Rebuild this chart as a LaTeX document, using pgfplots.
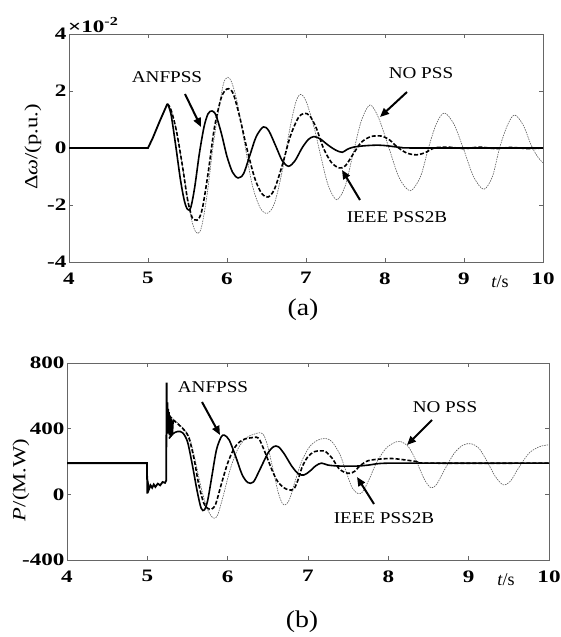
\documentclass[border=0pt]{standalone}
\usepackage{fontspec}
\setmainfont{Liberation Serif}
\newfontfamily\tickfont[FakeStretch=1.32]{Liberation Serif}
\newfontfamily\annfont[FakeStretch=1.16]{Liberation Serif}
\newfontfamily\labfont[FakeStretch=1.22]{Liberation Serif}
\usepackage{pgfplots}
\pgfplotsset{compat=1.18}
\usetikzlibrary{arrows.meta}
\pgfplotsset{mystyle/.style={
  scale only axis, anchor=south west,
  xmin=4, xmax=10, xtick={4,5,6,7,8,9,10},
  xticklabels={4,5,6,7,8,9,10},
  tick align=inside, major tick length=4pt,
  axis line style={black!60, line width=0.8pt},
  tick style={black!60, line width=0.8pt},
  tick label style={font=\fontsize{17.5}{20}\tickfont\bfseries},
  xticklabel style={yshift=-7pt},
  yticklabel style={xshift=1pt},
  clip=true,
}}
\tikzset{
  anf/.style={black, line width=1.6pt, smooth},
  ieee/.style={black, line width=1.6pt, dash pattern=on 4pt off 2pt, smooth},
  nopss/.style={black!65, line width=0.6pt, dash pattern=on 1.5pt off 1pt, smooth},
  arr/.style={-{Triangle[length=9pt,width=7.5pt]}, line width=2pt},
  ann/.style={font=\fontsize{16.5}{19}\annfont},
}
\begin{document}
\begin{tikzpicture}[x=1pt,y=1pt]
\useasboundingbox (0pt,0pt) rectangle (560pt,637pt);
% ---------------- (a) ----------------
\begin{axis}[mystyle, at={(69pt,375pt)}, width=474pt, height=228pt,
  ymin=-4, ymax=4, ytick={-4,-2,0,2,4}, yticklabels={-4,-2,0,2,4}]
\addplot[nopss] coordinates {(5.245,1.55)(5.29,1.35)(5.36,0.6)(5.44,-0.7)(5.52,-2.1)(5.58,-2.8)(5.63,-3.0)(5.68,-2.75)(5.75,-1.6)(5.83,0.2)(5.91,1.6)(5.96,2.3)(6.01,2.48)(6.06,2.3)(6.13,1.6)(6.22,0.2)(6.32,-1.3)(6.42,-2.1)(6.51,-2.29)(6.6,-1.95)(6.7,-0.8)(6.79,0.6)(6.87,1.6)(6.93,1.88)(7.0,1.65)(7.1,0.75)(7.18,-0.2)(7.28,-1.3)(7.39,-1.82)(7.5,-1.3)(7.6,-0.15)(7.7,0.95)(7.81,1.51)(7.92,1.05)(8.05,0)(8.18,-1.05)(8.32,-1.5)(8.45,-1.0)(8.55,0)(8.65,0.85)(8.75,1.23)(8.87,0.85)(8.99,0)(9.12,-1.0)(9.25,-1.45)(9.36,-1.0)(9.45,0)(9.55,0.8)(9.64,1.16)(9.75,0.8)(9.85,0.1)(9.93,-0.3)(10,-0.52)};
\addplot[ieee] coordinates {(5.245,1.55)(5.29,1.35)(5.36,0.6)(5.44,-0.7)(5.5,-1.8)(5.56,-2.45)(5.6,-2.52)(5.64,-2.5)(5.69,-2.1)(5.76,-0.9)(5.84,0.7)(5.92,1.7)(5.97,2.0)(6.02,2.08)(6.08,1.9)(6.16,1.1)(6.25,0)(6.35,-1.05)(6.44,-1.6)(6.52,-1.72)(6.6,-1.45)(6.7,-0.6)(6.8,0.4)(6.9,1.05)(6.98,1.22)(7.05,1.12)(7.13,0.7)(7.22,0)(7.32,-0.5)(7.42,-0.7)(7.5,-0.62)(7.6,-0.2)(7.7,0.2)(7.82,0.4)(7.95,0.42)(8.05,0.3)(8.15,0.05)(8.27,-0.17)(8.4,-0.24)(8.52,-0.15)(8.62,0)(8.8,0.03)(9.0,-0.02)(9.2,0.03)(9.4,-0.02)(9.6,0.02)(9.8,-0.02)(10,0)};
\addplot[anf] coordinates {(5.245,1.55)(5.29,1.2)(5.35,0.1)(5.41,-1.1)(5.46,-1.85)(5.5,-2.15)(5.54,-2.1)(5.59,-1.4)(5.65,-0.2)(5.71,0.75)(5.76,1.2)(5.81,1.3)(5.86,1.15)(5.93,0.5)(6.0,-0.3)(6.07,-0.85)(6.14,-1.05)(6.21,-0.9)(6.29,-0.25)(6.37,0.4)(6.46,0.74)(6.53,0.6)(6.62,0.05)(6.7,-0.45)(6.78,-0.64)(6.86,-0.45)(6.95,0)(7.03,0.3)(7.1,0.4)(7.18,0.32)(7.28,0.1)(7.38,-0.08)(7.46,-0.15)(7.52,-0.05)(7.6,0.03)(7.75,0.08)(7.92,0.1)(8.05,0.07)(8.2,0.02)(8.4,0)(10,0)};
\addplot[black, line width=1.8pt] coordinates {(4,0)(5,0)(5.06,0.35)(5.15,0.95)(5.245,1.55)};
\end{axis}
% ---------------- (b) ----------------
\begin{axis}[mystyle, at={(67pt,77pt)}, width=482pt, height=197pt,
  ymin=-400, ymax=800, ytick={-400,0,400,800}, yticklabels={-400,0,400,800}]
\addplot[nopss] coordinates {(5.27,480)(5.33,455)(5.4,425)(5.47,390)(5.53,340)(5.6,200)(5.67,40)(5.74,-80)(5.8,-135)(5.84,-145)(5.88,-120)(5.95,0)(6.03,150)(6.12,270)(6.22,340)(6.32,365)(6.4,375)(6.45,360)(6.5,290)(6.57,140)(6.63,10)(6.68,-55)(6.72,-63)(6.77,-30)(6.84,80)(6.92,200)(7.02,290)(7.12,330)(7.22,340)(7.3,320)(7.4,240)(7.48,130)(7.55,40)(7.62,5)(7.68,15)(7.76,90)(7.86,200)(7.98,285)(8.1,320)(8.15,322)(8.25,290)(8.35,200)(8.45,90)(8.53,40)(8.6,60)(8.7,150)(8.82,250)(8.93,300)(9.03,308)(9.13,280)(9.23,200)(9.33,110)(9.43,58)(9.52,80)(9.62,160)(9.75,250)(9.88,290)(10,302)};
\addplot[ieee] coordinates {(5.27,480)(5.33,450)(5.4,420)(5.47,385)(5.52,340)(5.58,220)(5.64,60)(5.7,-50)(5.75,-85)(5.8,-90)(5.85,-60)(5.92,60)(6.0,190)(6.08,280)(6.15,320)(6.22,338)(6.3,345)(6.36,348)(6.4,330)(6.47,250)(6.55,150)(6.62,80)(6.7,40)(6.76,28)(6.82,30)(6.87,80)(6.93,170)(7.0,230)(7.08,260)(7.16,265)(7.22,260)(7.3,220)(7.38,160)(7.45,135)(7.52,128)(7.58,140)(7.65,175)(7.75,205)(7.9,215)(8.05,218)(8.2,210)(8.35,200)(8.5,190)(10,190)};
\addplot[anf] coordinates {(5.27,340)(5.32,370)(5.38,383)(5.44,375)(5.5,320)(5.56,180)(5.62,20)(5.67,-85)(5.71,-95)(5.75,-40)(5.8,100)(5.86,270)(5.92,350)(5.96,360)(6.02,330)(6.1,230)(6.18,120)(6.25,72)(6.32,75)(6.4,150)(6.5,250)(6.57,290)(6.63,290)(6.7,250)(6.8,170)(6.88,125)(6.95,118)(7.02,140)(7.1,175)(7.17,190)(7.25,178)(7.4,172)(7.6,172)(7.75,178)(7.9,188)(8.2,190)(10,190)};
\addplot[black, line width=1.8pt] coordinates {(4,190)(4.995,190)(5.0,5)(5.01,60)(5.02,30)(5.04,55)(5.06,40)(5.08,60)(5.1,45)(5.13,65)(5.16,55)(5.19,75)(5.22,70)(5.235,85)(5.24,680)(5.245,400)(5.25,560)(5.255,380)(5.26,520)(5.265,370)(5.27,500)(5.275,360)(5.28,480)(5.29,350)(5.3,460)(5.31,360)(5.32,450)};
\end{axis}
% ---------- texts ----------
\node[anchor=west, inner sep=1pt, font=\fontsize{17.5}{20}\tickfont\bfseries] at (67pt,612pt) {×10\textsuperscript{-2}};
\node[rotate=90, font=\fontsize{18.5}{20}\labfont] at (33pt,490pt) {Δ\textit{ω}/(p.u.)};
\node[rotate=90, font=\fontsize{18.5}{20}\labfont] at (21pt,157pt) {\textit{P}/(M.W)};
\node[font=\fontsize{18}{20}\selectfont] at (500pt,355pt) {\textit{t}/s};
\node[font=\fontsize{18}{20}\selectfont] at (506pt,57pt) {\textit{t}/s};
\node[font=\fontsize{24}{26}\annfont] at (303pt,327pt) {(a)};
\node[font=\fontsize{24}{26}\annfont] at (302pt,15pt) {(b)};
% annotations (a)
\node[ann] at (167pt,560pt) {ANFPSS};
\draw[arr] (185pt,543pt) -- (201pt,510pt);
\node[ann] at (421pt,564pt) {NO PSS};
\draw[arr] (407pt,545pt) -- (380pt,520pt);
\node[ann] at (397pt,420pt) {IEEE PSS2B};
\draw[arr] (360pt,437pt) -- (342pt,467pt);
% annotations (b)
\node[ann] at (213pt,250pt) {ANFPSS};
\draw[arr] (202pt,235pt) -- (220pt,202pt);
\node[ann] at (445pt,230pt) {NO PSS};
\draw[arr] (432pt,217pt) -- (407pt,192pt);
\node[ann] at (384pt,119pt) {IEEE PSS2B};
\draw[arr] (374pt,133pt) -- (357pt,160pt);
\end{tikzpicture}
\end{document}
